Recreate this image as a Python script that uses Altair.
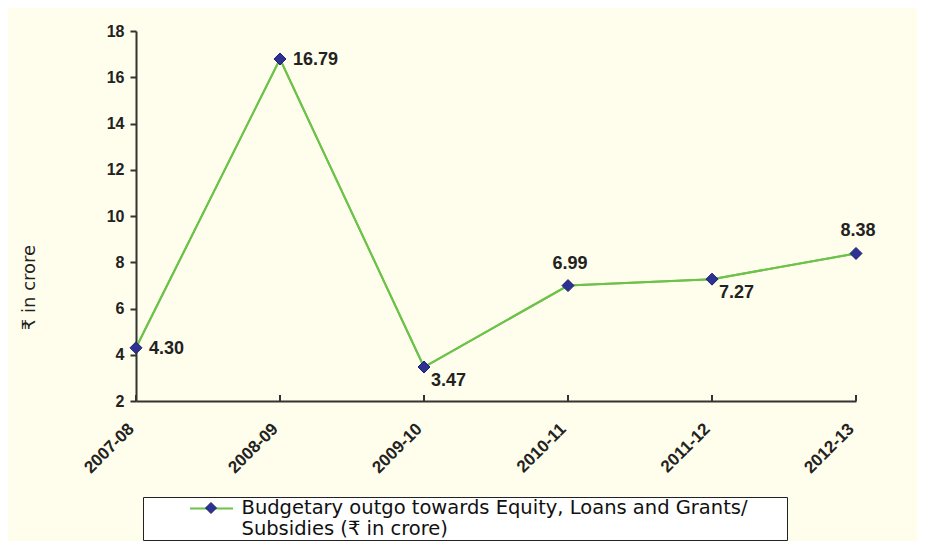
import altair as alt
import pandas as pd

years = ["2007-08", "2008-09", "2009-10", "2010-11", "2011-12", "2012-13"]
values = [4.30, 16.79, 3.47, 6.99, 7.27, 8.38]
series_name = "Budgetary outgo towards Equity, Loans and Grants/ Subsidies (₹ in crore)"
legend_lines = ["Budgetary outgo towards Equity, Loans and Grants/", "Subsidies (₹ in crore)"]
y_ticks = [2, 4, 6, 8, 10, 12, 14, 16, 18]

df = pd.DataFrame({"year": years, "value": values})
df["series"] = series_name
df["legline"] = series_name + " "
df["marker"] = series_name + "  "
df["label"] = [f"{v:.2f}" for v in values]

BG = "#FFFDEB"
GREEN = "#6CC24A"
NAVY = "#2E3192"
NAVY_EDGE = "#1B2270"
AXIS = "#333333"
TXT_FONT = "DejaVu Sans"

label_expr = "['" + legend_lines[0] + "', '" + legend_lines[1] + "']"

x_enc = alt.X(
    "year:O", sort=years,
    scale=alt.Scale(type="point", padding=0),
    axis=alt.Axis(title=None, labelAngle=-45, labelAlign="right", labelBaseline="middle",
                  labelFont="Liberation Sans", labelFontWeight="bold", labelFontSize=17,
                  labelColor="#222222", domainColor=AXIS, domainWidth=2, ticks=False,
                  labelPadding=25, labelOffset=-5),
)
y_enc = alt.Y(
    "value:Q",
    scale=alt.Scale(domain=[2, 18], nice=False, zero=False),
    axis=alt.Axis(values=y_ticks, title="₹ in crore", grid=False,
                  labelFont="Liberation Sans", labelFontWeight="bold",
                  labelFontSize=16, labelColor="#222222", labelPadding=6,
                  domainColor=AXIS, domainWidth=2, tickColor=AXIS, tickWidth=2,
                  tickSize=6, titleFont=TXT_FONT, titleFontSize=18,
                  titleFontWeight="normal", titleColor="#222222",
                  titleX=-98, titleY=256),
)

base = alt.Chart(df)

# main line; its legend supplies the box and the text
line = base.mark_line(strokeWidth=2).encode(
    x=x_enc, y=y_enc,
    stroke=alt.Stroke("series:N", scale=alt.Scale(range=[GREEN]),
                      legend=alt.Legend(
                          title=".", titleOrient="right", titlePadding=35,
                          titleOpacity=0, titleFontSize=10,
                          orient="none", legendX=7, legendY=466,
                          symbolType="circle", symbolSize=196, symbolStrokeWidth=0,
                          symbolOpacity=0, symbolOffset=72,
                          labelExpr=label_expr,
                          labelFont=TXT_FONT, labelFontSize=19.5, labelColor="#111111",
                          labelLimit=900, labelOffset=6,
                          strokeColor="#222222", fillColor="#FFFFFF", padding=1)),
)

# same line drawn again; its legend supplies the green line symbol
line_sym = base.mark_line(strokeWidth=2).encode(
    x=alt.X("year:O", sort=years), y="value:Q",
    color=alt.Color("legline:N", scale=alt.Scale(range=[GREEN]),
                    legend=alt.Legend(title=None, orient="none", legendX=53, legendY=455,
                                      symbolType="stroke", symbolSize=1849,
                                      symbolStrokeWidth=2, labelExpr="''", padding=0)),
)

xticks = base.mark_rule(color=AXIS, strokeWidth=2).encode(
    x=alt.X("year:O", sort=years), y=alt.value(370), y2=alt.value(364)
)

points = base.mark_point(shape="diamond", filled=True, size=144, stroke=NAVY_EDGE,
                         strokeWidth=1, opacity=1).encode(
    x=alt.X("year:O", sort=years), y="value:Q",
    fill=alt.Fill("marker:N", scale=alt.Scale(range=[NAVY]),
                  legend=alt.Legend(title=None, orient="none", legendX=69, legendY=471,
                                    symbolType="diamond", symbolSize=121,
                                    symbolStrokeColor=NAVY_EDGE, symbolStrokeWidth=1,
                                    labelExpr="''", padding=0)),
)

lab_style = dict(font="Liberation Sans", fontWeight="bold", fontSize=18, color="#222222")

lab_right = base.transform_filter(
    alt.FieldOneOfPredicate(field="year", oneOf=["2007-08", "2008-09"])
).mark_text(align="left", baseline="middle", dx=13, dy=1, **lab_style).encode(
    x=alt.X("year:O", sort=years), y="value:Q", text="label:N")

lab_below = base.transform_filter(
    alt.FieldOneOfPredicate(field="year", oneOf=["2009-10", "2011-12"])
).mark_text(align="left", baseline="middle", dx=7, dy=14, **lab_style).encode(
    x=alt.X("year:O", sort=years), y="value:Q", text="label:N")

lab_above = base.transform_filter(
    alt.FieldOneOfPredicate(field="year", oneOf=["2010-11", "2012-13"])
).mark_text(align="center", baseline="middle", dx=2, dy=-22, **lab_style).encode(
    x=alt.X("year:O", sort=years), y="value:Q", text="label:N")

chart = alt.layer(line, line_sym, xticks, points, lab_right, lab_below, lab_above).properties(
    width=720, height=370,
    autosize=alt.AutoSizeParams(type="none"),
    padding={"left": 128, "top": 23, "right": 61, "bottom": 140},
    background=BG,
).configure_view(stroke=None)

chart.save("out.html", embed_options={"renderer": "svg", "actions": False})
